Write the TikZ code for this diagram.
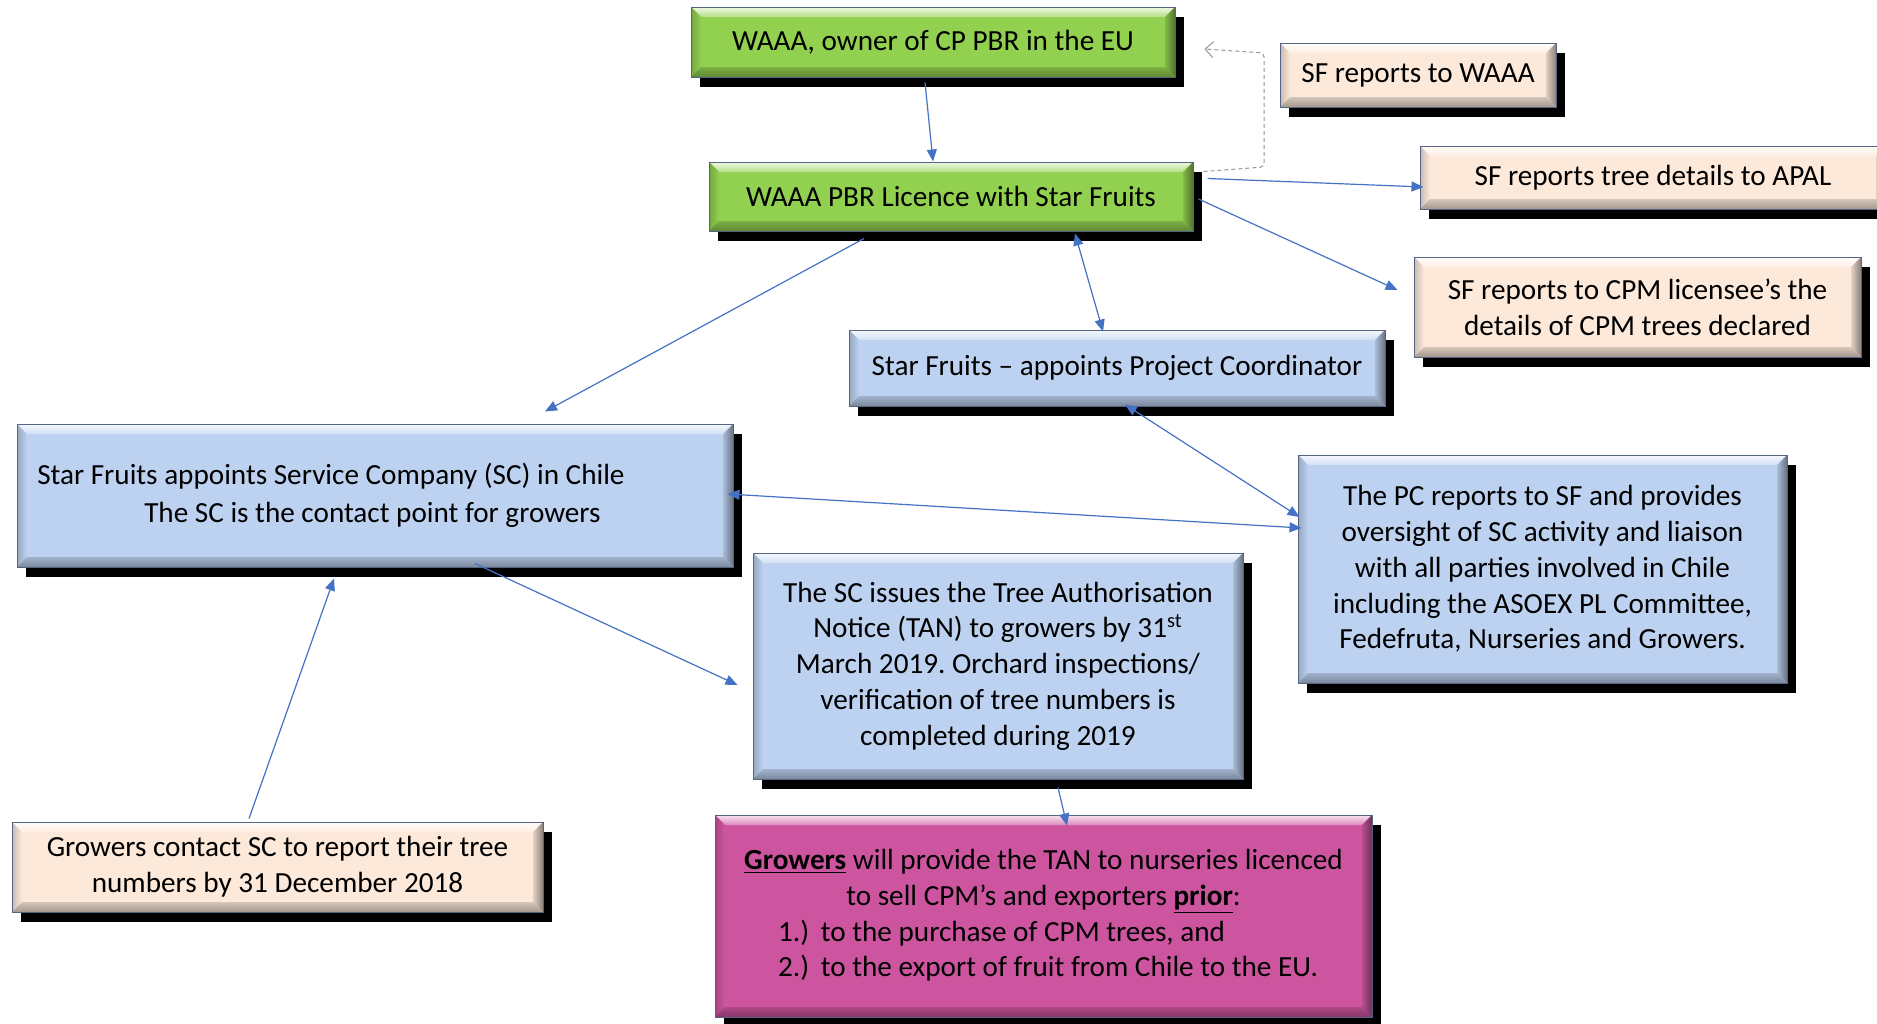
\documentclass[tikz,border=0pt]{standalone}
\usepackage{fontspec}
\setmainfont{Carlito}
\usetikzlibrary{shadows,arrows.meta,calc}
\definecolor{cgreen}{RGB}{146,208,80}
\definecolor{cblue}{RGB}{189,210,240}
\definecolor{cpeach}{RGB}{252,233,218}
\definecolor{cmag}{RGB}{205,85,160}
\definecolor{carrow}{RGB}{68,114,196}
\definecolor{cgray}{RGB}{150,150,150}
\definecolor{cborder}{RGB}{85,100,130}
\tikzset{
  bev/.style={rectangle, inner sep=0pt, align=center, fill=#1, draw=cborder, line width=0.5pt,
    font=\fontsize{14.6pt}{17.9pt}\selectfont\frenchspacing,
    drop shadow={shadow xshift=4.5pt, shadow yshift=-5pt, fill=black, opacity=1},
    path picture={
      \path (path picture bounding box.north west) coordinate (pnw)
            (path picture bounding box.north east) coordinate (pne)
            (path picture bounding box.south west) coordinate (psw)
            (path picture bounding box.south east) coordinate (pse);
      \shade[top color=#1!15!white, bottom color=#1!70!white]
        (pnw) -- (pne) -- ([xshift=-5pt,yshift=-5pt]pne) -- ([xshift=5pt,yshift=-5pt]pnw) -- cycle;
      \shade[left color=#1!80!black, right color=#1]
        (pnw) -- ([xshift=5pt,yshift=-5pt]pnw) -- ([xshift=5pt,yshift=5pt]psw) -- (psw) -- cycle;
      \shade[left color=#1!90!black, right color=#1!55!black]
        (pne) -- ([xshift=-5pt,yshift=-5pt]pne) -- ([xshift=-5pt,yshift=5pt]pse) -- (pse) -- cycle;
      \shade[top color=#1!85!black, bottom color=#1!65!black]
        (psw) -- ([xshift=5pt,yshift=5pt]psw) -- ([xshift=-5pt,yshift=5pt]pse) -- (pse) -- cycle;
    }},
  arr/.style={draw=carrow, line width=0.6pt, -{Triangle[length=6pt,width=5pt]}},
  darr/.style={draw=carrow, line width=0.6pt, {Triangle[length=6pt,width=5pt]}-{Triangle[length=6pt,width=5pt]}},
  gdash/.style={draw=cgray, line width=0.5pt, dash pattern=on 2pt off 1.5pt, rounded corners=2pt,
    -{Straight Barb[length=4pt,width=8pt]}}
}
\begin{document}
\begin{tikzpicture}[x=0.5pt,y=-0.5pt]
\fill[white] (0,0) rectangle (1877,1023);
\useasboundingbox (0,0) rectangle (1877,1023);

% boxes
\node[bev=cgreen, minimum width=242pt, minimum height=35pt] (owner) at (933,42)
  {WAAA, owner of CP PBR in the EU};
\node[bev=cgreen, minimum width=242pt, minimum height=34.5pt] (pbr) at (951,196.5)
  {WAAA PBR Licence with Star Fruits};
\node[bev=cpeach, minimum width=138pt, minimum height=32pt] (sfw) at (1418,75)
  {SF reports to WAAA};
\node[bev=cpeach, minimum width=233pt, minimum height=31.5pt] (apal) at (1653,177.5)
  {SF reports tree details to APAL};
\node[bev=cpeach, minimum width=223.5pt, minimum height=50pt] (cpm) at (1637.5,307)
  {SF reports to CPM licensee’s the\\details of CPM trees declared};
\node[bev=cblue, minimum width=268pt, minimum height=38pt] (pc) at (1117,368)
  {Star Fruits – appoints Project Coordinator};
\node[bev=cblue, minimum width=358pt, minimum height=71.5pt,
      font=\fontsize{14.6pt}{19pt}\selectfont\frenchspacing] (sc) at (375,495.5)
  {\begin{tabular}{@{}l@{\hspace{44pt}}}Star Fruits appoints Service Company (SC) in Chile\\\hspace*{53.5pt}The SC is the contact point for growers\end{tabular}};
\node[bev=cblue, minimum width=244.5pt, minimum height=114pt] (pcr) at (1542.5,569)
  {The PC reports to SF and provides\\oversight of SC activity and liaison\\with all parties involved in Chile\\including the ASOEX PL Committee,\\Fedefruta, Nurseries and Growers.};
\node[bev=cblue, minimum width=245pt, minimum height=113pt] (tan) at (998,666)
  {The SC issues the Tree Authorisation\\Notice (TAN) to growers by 31\textsuperscript{st}\\March 2019. Orchard inspections/\\verification of tree numbers is\\completed during 2019};
\node[bev=cpeach, minimum width=265.5pt, minimum height=45pt] (grw) at (277.5,867)
  {Growers contact SC to report their tree\\numbers by 31 December 2018};
\node[bev=cmag, minimum width=328.5pt, minimum height=101pt] (mag) at (1043.5,916)
  {\begin{tabular}{@{}l@{}}
   \multicolumn{1}{@{}c@{}}{\underline{\textbf{Growers}} will provide the TAN to nurseries licenced}\\
   \multicolumn{1}{@{}c@{}}{to sell CPM’s and exporters \underline{\textbf{prior}}:}\\
   \hspace*{17pt}1.)\hspace{0.4em}to the purchase of CPM trees, and\\
   \hspace*{17pt}2.)\hspace{0.4em}to the export of fruit from Chile to the EU.
   \end{tabular}};

% connectors
\draw[arr] ([shift={(-8,5)}]owner.south) -- ([shift={(-18,0)}]pbr.north);
\coordinate (g1) at (1264,167);
\coordinate (g2) at (1264,53);
\draw[gdash] ([shift={(10,10)}]pbr.north east) -- (g1) -- (g2) -- ([shift={(29,7)}]owner.east);
\draw[arr] ([shift={(14,17)}]pbr.north east) -- ([shift={(4,9.5)}]apal.west);
\draw[arr] ([shift={(5,2.5)}]pbr.east) -- ([shift={(-16,-17)}]cpm.west);
\draw[darr] ([shift={(124,2)}]pbr.south) -- ([shift={(-14,2)}]pc.north);
\draw[arr] ([shift={(-87,7)}]pbr.south) -- ([shift={(170,-12)}]sc.north);
\draw[darr] ([shift={(8,-2)}]pc.south) -- ([shift={(2,-52)}]pcr.west);
\draw[darr] ([shift={(-6,-1.5)}]sc.east) -- ([shift={(4,-41)}]pcr.west);
\draw[arr] ([shift={(100,-4)}]sc.south) -- ([shift={(-15,19)}]tan.west);
\draw[arr] ([shift={(-28.5,-3)}]grw.north) -- ([shift={(-41,11)}]sc.south);
\draw[arr] ([shift={(60,8)}]tan.south) -- ([shift={(23.5,11)}]mag.north);
\end{tikzpicture}
\end{document}
